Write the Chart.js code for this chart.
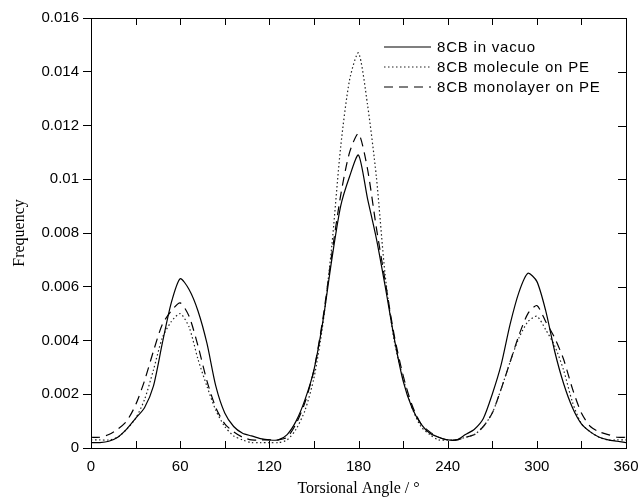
<!DOCTYPE html>
<html lang="en">
<head>
    <meta charset="UTF-8">
    <title>Torsional Angle Distribution</title>
    <script src="https://cdn.jsdelivr.net/npm/chart.js"></script>
    <style>
        body { margin: 0; background: #fff; }
        #wrap { width: 644px; height: 500px; }
    </style>
</head>
<body>
    <div id="wrap"><canvas id="torsionChart"></canvas></div>
    <script>
        // torsional angle (degrees), sampled every 6 deg
        const angles = [
            0, 6, 12, 18, 24, 30, 36, 42, 48, 54, 60, 66, 72, 78, 84, 90, 96, 102, 108, 114,
            120, 126, 132, 138, 144, 150, 156, 162, 168, 174, 180, 186, 192, 198, 204, 210, 216, 222, 228, 234,
            240, 246, 252, 258, 264, 270, 276, 282, 288, 294, 300, 306, 312, 318, 324, 330, 336, 342, 348, 354, 360
        ];

        // 8CB in vacuo (solid)
        const inVacuo = [
            0.0002, 0.0002, 0.00025, 0.0004, 0.0007, 0.0011, 0.0015, 0.0023, 0.0039, 0.0054, 0.0063, 0.0059, 0.0051, 0.0039, 0.0023, 0.0013, 0.0008, 0.00055, 0.00045, 0.00035,
            0.0003, 0.0003, 0.0005, 0.0010, 0.0018, 0.0029, 0.0047, 0.0070, 0.0090, 0.0101, 0.0109, 0.0093, 0.0078, 0.0060, 0.0041, 0.0025, 0.0015, 0.0009, 0.00055, 0.0004,
            0.0003, 0.0003, 0.0005, 0.0007, 0.0011, 0.0020, 0.0031, 0.0046, 0.0058, 0.0065, 0.0062, 0.0051, 0.0036, 0.0024, 0.0015, 0.0009, 0.0006, 0.0004, 0.0003, 0.00025, 0.0002
        ];

        // 8CB molecule on PE (dotted)
        const moleculeOnPE = [
            0.0003, 0.0003, 0.0003, 0.0004, 0.0007, 0.0011, 0.0018, 0.0029, 0.0041, 0.0047, 0.0050, 0.0045, 0.0033, 0.0023, 0.0014, 0.0008, 0.00045, 0.0003, 0.0002, 0.0002,
            0.0002, 0.0002, 0.0003, 0.0007, 0.0014, 0.0026, 0.0046, 0.0075, 0.0112, 0.0137, 0.0147, 0.0128, 0.0101, 0.0064, 0.0040, 0.0026, 0.0015, 0.0008, 0.0005, 0.0003,
            0.0003, 0.0003, 0.0004, 0.0005, 0.0008, 0.0013, 0.0022, 0.0032, 0.0041, 0.0047, 0.0049, 0.0044, 0.0038, 0.0029, 0.0017, 0.0009, 0.0006, 0.0004, 0.0003, 0.0003, 0.0003
        ];

        // 8CB monolayer on PE (dashed)
        const monolayerOnPE = [
            0.0004, 0.0004, 0.0005, 0.0007, 0.0010, 0.0016, 0.0025, 0.0036, 0.0046, 0.0051, 0.0054, 0.0049, 0.0038, 0.0025, 0.0015, 0.0009, 0.0006, 0.0004, 0.0003, 0.0003,
            0.0003, 0.0003, 0.0004, 0.0009, 0.0017, 0.0029, 0.0048, 0.0072, 0.0094, 0.0110, 0.0117, 0.0104, 0.0082, 0.0062, 0.0042, 0.0027, 0.0016, 0.0009, 0.0006, 0.0004,
            0.0003, 0.0003, 0.0004, 0.0005, 0.0008, 0.0013, 0.0022, 0.0032, 0.0042, 0.0050, 0.0053, 0.0047, 0.0041, 0.0033, 0.0022, 0.0013, 0.0008, 0.0006, 0.0005, 0.0004, 0.0004
        ];

        const seriesLabels = ['8CB in vacuo', '8CB molecule on PE', '8CB monolayer on PE'];
        const yTicks = [0, 0.002, 0.004, 0.006, 0.008, 0.01, 0.012, 0.014, 0.016];
        const yTickLabels = ['0', '0.002', '0.004', '0.006', '0.008', '0.01', '0.012', '0.014', '0.016'];

        const sans = '"Liberation Sans", Arial, sans-serif';
        const serif = '"Liberation Serif", "Times New Roman", serif';

        function toPoints(values) {
            return angles.map((a, i) => ({ x: a, y: values[i] }));
        }

        // frame, inward ticks and the legend box inside the plot
        const framePlugin = {
            id: 'frame',
            afterDraw(chart) {
                const ctx = chart.ctx;
                const area = chart.chartArea;
                const xs = chart.scales.x;
                const ys = chart.scales.y;
                ctx.save();
                ctx.strokeStyle = '#000';
                ctx.lineWidth = 1;
                ctx.strokeRect(area.left + 0.5, area.top + 0.5, area.right - area.left, area.bottom - area.top);

                ctx.beginPath();
                for (let a = 30; a < 360; a += 30) {
                    const px = Math.round(xs.getPixelForValue(a)) + 0.5;
                    ctx.moveTo(px, area.bottom);
                    ctx.lineTo(px, area.bottom - 7);
                    ctx.moveTo(px, area.top);
                    ctx.lineTo(px, area.top + 7);
                }
                yTicks.forEach(v => {
                    const py = Math.round(ys.getPixelForValue(v)) + 0.5;
                    ctx.moveTo(area.right, py);
                    ctx.lineTo(area.right - 8, py);
                });
                ctx.stroke();

                // legend
                const lx0 = 384, lx1 = 431, tx = 437;
                const rows = [47, 67, 87];
                chart.data.datasets.forEach((ds, i) => {
                    ctx.beginPath();
                    ctx.setLineDash(ds.borderDash || []);
                    ctx.lineWidth = ds.borderWidth;
                    ctx.strokeStyle = ds.borderColor;
                    ctx.moveTo(lx0, rows[i]);
                    ctx.lineTo(lx1, rows[i]);
                    ctx.stroke();
                    ctx.setLineDash([]);
                    ctx.fillStyle = '#000';
                    ctx.font = '15px ' + sans;
                    ctx.letterSpacing = '0.8px';
                    ctx.textBaseline = 'middle';
                    ctx.textAlign = 'left';
                    ctx.fillText(seriesLabels[i], tx, rows[i] + 1);
                });
                ctx.restore();
            }
        };

        new Chart(document.getElementById('torsionChart'), {
            type: 'line',
            data: {
                datasets: [
                    {
                        label: seriesLabels[0],
                        data: toPoints(inVacuo),
                        borderColor: '#000',
                        borderWidth: 1.2,
                        pointRadius: 0,
                        tension: 0.25
                    },
                    {
                        label: seriesLabels[1],
                        data: toPoints(moleculeOnPE),
                        borderColor: '#222',
                        borderWidth: 1.2,
                        borderDash: [1.5, 2.5],
                        pointRadius: 0,
                        tension: 0.25
                    },
                    {
                        label: seriesLabels[2],
                        data: toPoints(monolayerOnPE),
                        borderColor: '#000',
                        borderWidth: 1.2,
                        borderDash: [9, 6],
                        pointRadius: 0,
                        tension: 0.25
                    }
                ]
            },
            options: {
                responsive: true,
                maintainAspectRatio: false,
                animation: false,
                layout: { padding: { top: 18, right: 18, left: 10, bottom: 2 } },
                plugins: {
                    legend: { display: false },
                    tooltip: { enabled: false }
                },
                scales: {
                    x: {
                        type: 'linear',
                        min: 0,
                        max: 360,
                        afterBuildTicks(scale) {
                            scale.ticks = [0, 60, 120, 180, 240, 300, 360].map(v => ({ value: v }));
                        },
                        afterFit(scale) {
                            scale.height = 50;
                            scale.paddingLeft = 0;
                            scale.paddingRight = 0;
                        },
                        grid: { display: true, drawOnChartArea: false, drawTicks: false },
                        border: { display: false },
                        ticks: {
                            color: '#000',
                            font: { family: sans, size: 15 },
                            padding: 10,
                            maxRotation: 0
                        },
                        title: {
                            display: true,
                            text: 'Torsional Angle / °',
                            color: '#000',
                            font: { family: serif, size: 16 },
                            padding: { top: 2, bottom: 0 }
                        }
                    },
                    y: {
                        min: 0,
                        max: 0.016,
                        afterBuildTicks(scale) {
                            scale.ticks = yTicks.map(v => ({ value: v }));
                        },
                        afterFit(scale) { scale.width = 81; },
                        grid: { drawOnChartArea: false, drawTicks: true, tickLength: 8, color: '#000' },
                        border: { display: false },
                        ticks: {
                            color: '#000',
                            font: { family: sans, size: 15 },
                            padding: 4,
                            callback: (v) => yTickLabels[yTicks.indexOf(v)] ?? ''
                        },
                        title: {
                            display: true,
                            text: 'Frequency',
                            color: '#000',
                            font: { family: serif, size: 16 },
                            padding: { top: 0, bottom: 4 }
                        }
                    }
                }
            },
            plugins: [framePlugin]
        });
    </script>
</body>
</html>
